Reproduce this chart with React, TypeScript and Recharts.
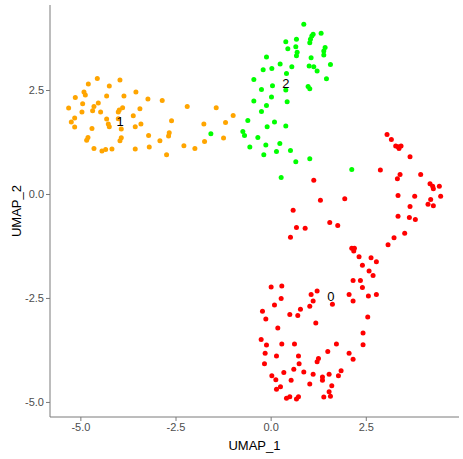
import { ScatterChart, Scatter, XAxis, YAxis } from "recharts";

// cluster 0 (red)
const c0x = [3.045, 3.159, 3.273, 3.334, 3.36, 3.413, 3.649, 2.87, 3.387, 3.317, 3.929, 4.174, 4.244, 4.262, 4.419, 4.454, 3.334, 3.772, 4.192, 4.122, 4.262, 3.649, 3.334, 3.632, 3.789, 3.509, 3.229, 3.072, 1.12, 1.295, 1.934, 0.578, 0.665, 0.893, 0.508, 1.54, 1.75, 2.118, 2.188, 2.17, 2.31, 2.625,
  2.398, 2.765, 2.573, 2.678, 2.153, 2.345, 2.398, 2.153, 2.048, 2.555, 2.765, 1.61, 2.538, 2.415, 2.415, 2.048, 2.153, 1.715, 1.488, 0, 0.28, 0.263, 0.088, -0.228, -0.14, 0.49, 0.7, 0.77, 1.05, 1.208, 1.103, 1.015, 1.173, 0.175, -0.263, -0.123, 0.28, 0.613, -0.158, 0.14, 0.718, -0.175, 0.735, 0.018, 0.123, 0.333, 0.595, 0.858, 0.525, 1.103, 1.243, 1.208, 1.348, 1.348, 1.523, 1.768, 1.838, 0.14, 0.245, 1.015, 1.593, 0.403, 0.49, 0.665, 0.718, 1.383, 1.523, 1.558];
const c0y = [1.444, 1.323, 1.163, 1.147, 1.107, 1.163, 0.906, 0.586, 0.481, 0.377, 0.481, 0.257, 0.201, 0.136, 0.201, -0.04, -0.024, -0.04, -0.12, -0.233, -0.273, -0.289, -0.521, -0.553, -0.602, -0.93, -1.043, -1.211, 0.345, -0.136, -0.104, -0.377, -0.794, -0.81, -1.027, -0.674, -0.746, -1.291, -1.291, -1.356, -1.5, -1.524,
  -1.7, -1.62, -1.837, -1.949, -2.069, -2.069, -2.238, -2.559, -2.406, -2.438, -2.406, -2.639, -2.944, -3.329, -3.61, -3.818, -3.962, -3.594, -3.778, -2.222, -2.198, -2.503, -2.655, -2.807, -2.992, -2.888, -2.912, -2.759, -2.406, -2.318, -2.559, -2.687, -3.088, -3.208, -3.489, -3.618, -3.594, -3.594, -3.818, -3.882, -3.882, -4.067, -4.067, -4.356, -4.452, -4.283, -4.203, -4.267, -4.468, -4.323, -3.946, -4.019, -4.388, -4.468, -4.323, -4.356, -4.235, -4.684, -4.62, -4.556, -4.596, -4.901, -4.861, -4.917, -4.861, -4.869, -4.741, -4.853];

// cluster 1 (orange)
const c1x = [-4.568, -3.973, -4.804, -4.253, -4.918, -4.883, -5.146, -4.323, -3.868, -3.553, -3.238, -2.862, -2.205, -1.444, -0.998, -5.321, -4.953, -4.656, -4.542, -4.691, -4.971, -4.481, -3.991, -4.017, -3.903, -3.623, -3.448, -5.163, -5.251, -5.163, -4.708, -4.323, -4.279, -4.253, -4.017, -3.938, -3.571, -3.422, -2.617, -1.768, -1.199, -4.813, -4.848, -3.938, -3.973, -3.22, -2.923, -2.678, -2.695, -1.251, -1.75, -4.656, -4.446, -4.349, -4.183, -3.571, -3.203, -2.748, -2.293, -2.004];
const c1y = [2.791, 2.751, 2.655, 2.607, 2.462, 2.39, 2.334, 2.366, 2.366, 2.462, 2.294, 2.262, 2.118, 2.086, 1.901, 2.077, 2.182, 2.118, 2.198, 2.013, 1.981, 1.981, 2.029, 1.981, 2.086, 1.893, 2.061, 1.837, 1.741, 1.62, 1.588, 1.813, 1.692, 1.628, 1.821, 1.572, 1.628, 1.692, 1.773, 1.692, 1.733, 1.372, 1.307, 1.364, 1.291, 1.42, 1.291, 1.484, 1.404, 1.356, 1.275, 1.107, 1.043, 1.083, 1.091, 1.091, 1.139, 0.955, 1.171, 1.107];

// cluster 2 (green)
const c2x = [0.858, 1.313, 1.103, 1.068, 1.033, 1.015, 0.385, 0.665, 0.648, 0.438, 0.683, 0.665, 1.418, 1.383, 1.383, -0.123, 0.236, 0.543, 1.05, 0.998, 1.12, 1.208, 1.558, -0.21, 0.018, 0.403, -0.455, 0.035, -0.254, 0.385, 0.971, 1.015, 1.453, -0.455, 0.009, 0.42, -0.123, -0.254, -0.613, 0.088, -0.105, 0.385, -0.744, -0.7, -0.35, -1.584, -0.56, -0.14, 0.228, -0.193, 0.14, 0.508, 0.648, 1.015, 0.263, 2.118];
const c2y = [4.091, 3.874, 3.85, 3.81, 3.73, 3.65, 3.674, 3.73, 3.553, 3.505, 3.417, 3.337, 3.537, 3.449, 3.353, 3.305, 3.136, 3.072, 3.289, 3.088, 3.072, 2.968, 3.128, 3.0, 3.032, 2.912, 2.767, 2.615, 2.527, 2.511, 2.599, 2.543, 2.783, 2.246, 2.342, 2.23, 2.142, 1.997, 1.781, 1.741, 1.628, 1.644, 1.516, 1.42, 1.372, 1.46, 1.139, 1.187, 1.227, 0.955, 1.035, 1.059, 0.786, 0.858, 0.409, 0.602];

// cluster labels
const labelText = ["0", "1", "2"];
const labelX = [1.566, -3.97, 0.385];
const labelY = [-2.46, 1.75, 2.67];

const xTicks = [-5, -2.5, 0, 2.5];
const yTicks = [-5, -2.5, 0, 2.5];

const toPoints = (xs: number[], ys: number[]) => xs.map((x, i) => ({ x, y: ys[i] }));

const data0 = toPoints(c0x, c0y);
const data1 = toPoints(c1x, c1y);
const data2 = toPoints(c2x, c2y);
const labels = labelX.map((x, i) => ({ x, y: labelY[i], text: labelText[i] }));

const dot = (color: string) => (props: any) => (
    <circle cx={props.cx} cy={props.cy} r={2.5} fill={color} />
);

const LabelShape = (props: any) => (
    <text
        x={props.cx}
        y={props.cy}
        textAnchor="middle"
        dominantBaseline="central"
        fontSize={13}
        fontFamily="Liberation Sans, Arial, sans-serif"
        fill="#000"
    >
        {props.payload.text}
    </text>
);

const tickStyle = { fontSize: 11, fill: "#4d4d4d", fontFamily: "Liberation Sans, Arial, sans-serif" };
const axisColor = "#7a7a7a";

export default function App() {
    return (
        <div style={{ position: "absolute", left: 0, top: 0, background: "#fff" }}>
            <ScatterChart width={463} height={459} margin={{ top: 5, right: 4, bottom: 0, left: 0 }}>
                <XAxis
                    type="number"
                    dataKey="x"
                    domain={[-5.811, 4.936]}
                    ticks={xTicks}
                    allowDataOverflow
                    tickFormatter={(v: number) => v.toFixed(1)}
                    height={42}
                    tick={tickStyle}
                    tickSize={4}
                    tickMargin={2}
                    stroke={axisColor}
                    tickLine={{ stroke: axisColor }}
                    label={{ value: "UMAP_1", position: "insideBottom", offset: 9, fontSize: 13, fill: "#000", fontFamily: "Liberation Sans, Arial, sans-serif" }}
                />
                <YAxis
                    type="number"
                    dataKey="y"
                    domain={[-5.35, 4.556]}
                    ticks={yTicks}
                    allowDataOverflow
                    tickFormatter={(v: number) => v.toFixed(1)}
                    width={50}
                    tick={tickStyle}
                    tickSize={4}
                    tickMargin={2}
                    stroke={axisColor}
                    tickLine={{ stroke: axisColor }}
                    label={{ value: "UMAP_2", angle: -90, position: "insideLeft", offset: 16, fontSize: 13, fill: "#000", fontFamily: "Liberation Sans, Arial, sans-serif", style: { textAnchor: "middle" } }}
                />
                <Scatter data={data1} fill="#FFA500" shape={dot("#FFA500")} isAnimationActive={false} />
                <Scatter data={data2} fill="#00FF00" shape={dot("#00FF00")} isAnimationActive={false} />
                <Scatter data={data0} fill="#FF0000" shape={dot("#FF0000")} isAnimationActive={false} />
                <Scatter data={labels} shape={LabelShape} isAnimationActive={false} />
            </ScatterChart>
        </div>
    );
}
